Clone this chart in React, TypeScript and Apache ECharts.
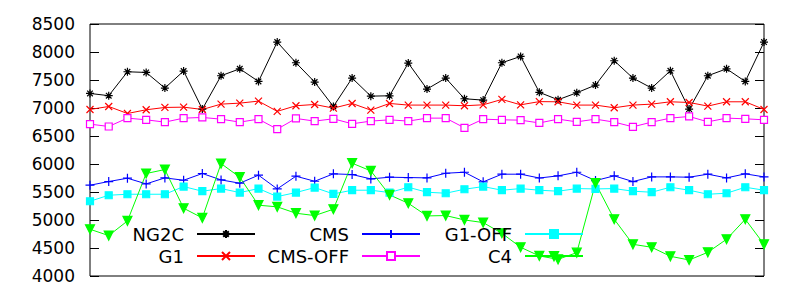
import React, { useEffect, useRef } from "react";
import * as echarts from "echarts";

const categories = Array.from({ length: 37 }, (_, i) => String(i + 1));

const ng2c = [7260, 7220, 7647, 7635, 7356, 7660, 6980, 7576, 7700, 7474, 8178, 7808, 7463, 7027, 7534, 7212, 7218, 7802, 7338, 7534, 7165, 7141, 7808, 7921, 7280, 7147, 7272, 7409, 7844, 7534, 7356, 7665, 6980, 7576, 7700, 7474, 8178];
const g1 = [6974, 7027, 6902, 6968, 7010, 7015, 6974, 7069, 7087, 7123, 6940, 7040, 7063, 6998, 7081, 6962, 7081, 7052, 7052, 7052, 7040, 7057, 7153, 7057, 7114, 7111, 7052, 7052, 7004, 7052, 7069, 7111, 7099, 7034, 7111, 7111, 6974];
const cms = [5621, 5687, 5746, 5645, 5752, 5710, 5830, 5716, 5657, 5800, 5555, 5782, 5692, 5824, 5812, 5734, 5764, 5758, 5752, 5835, 5853, 5681, 5818, 5818, 5750, 5788, 5853, 5704, 5788, 5687, 5770, 5770, 5764, 5818, 5752, 5824, 5770];
const cmsOff = [6712, 6670, 6819, 6789, 6748, 6819, 6831, 6801, 6748, 6801, 6622, 6813, 6766, 6807, 6718, 6766, 6789, 6766, 6819, 6819, 6646, 6801, 6789, 6783, 6733, 6801, 6753, 6801, 6748, 6664, 6748, 6819, 6849, 6753, 6819, 6807, 6789];
const g1Off = [5335, 5442, 5460, 5460, 5460, 5597, 5514, 5561, 5490, 5561, 5418, 5490, 5579, 5466, 5532, 5532, 5490, 5585, 5496, 5478, 5549, 5597, 5532, 5561, 5532, 5514, 5561, 5555, 5561, 5514, 5496, 5585, 5532, 5460, 5478, 5585, 5532];
const c4 = [4835, 4721, 4983, 5830, 5901, 5210, 5037, 6008, 5764, 5264, 5235, 5121, 5079, 5192, 6014, 5877, 5448, 5299, 5073, 5079, 5001, 4954, 4763, 4513, 4358, 4298, 4417, 5657, 5013, 4566, 4513, 4352, 4286, 4423, 4656, 5013, 4566];

const yTicks = { min: 4000, max: 8500, interval: 500 };

const FONT = "DejaVu Sans";
const TICK_FS = 17;
const KEY_FS = 18;

const SYM_ASTERISK = "path://M0,5L10,5M5,0L5,10M1.5,1.5L8.5,8.5M8.5,1.5L1.5,8.5";
const SYM_X = "path://M0,0L10,10M10,0L0,10";
const SYM_PLUS = "path://M0,5L10,5M5,0L5,10";
const SYM_TRI = "path://M0,0L10,0L5,9Z";

type SDef = { name: string; data: number[]; color: string; symbol: string; size: number; fill: string };

const seriesDefs: SDef[] = [
  { name: "NG2C", data: ng2c, color: "#000000", symbol: SYM_ASTERISK, size: 8, fill: "#000000" },
  { name: "G1", data: g1, color: "#ff0000", symbol: SYM_X, size: 7, fill: "#ff0000" },
  { name: "CMS", data: cms, color: "#0000ff", symbol: SYM_PLUS, size: 9, fill: "#0000ff" },
  { name: "CMS-OFF", data: cmsOff, color: "#ff00ff", symbol: "rect", size: 7, fill: "#ffffff" },
  { name: "G1-OFF", data: g1Off, color: "#00ffff", symbol: "rect", size: 7, fill: "#00ffff" },
  { name: "C4", data: c4, color: "#00ff00", symbol: SYM_TRI, size: 9, fill: "#00ff00" },
];

const legendPos = [
  { name: "NG2C", right: 544, top: 224 },
  { name: "G1", right: 544, top: 246 },
  { name: "CMS", right: 379, top: 224 },
  { name: "CMS-OFF", right: 379, top: 246 },
  { name: "G1-OFF", right: 216, top: 224 },
  { name: "C4", right: 216, top: 246 },
];

export default function App() {
  const ref = useRef<HTMLDivElement>(null);
  useEffect(() => {
    if (!ref.current) return;
    const chart = echarts.init(ref.current, undefined, { renderer: "svg" });
    const option: any = {
      animation: false,
      backgroundColor: "#ffffff",
      textStyle: { fontFamily: FONT },
      grid: {
        left: 90,
        right: 36,
        top: 24,
        bottom: 24,
        show: true,
        borderColor: "#000000",
        borderWidth: 1,
        backgroundColor: "transparent",
      },
      xAxis: {
        type: "category",
        data: categories,
        boundaryGap: false,
        axisLine: { show: false },
        axisTick: { show: false },
        axisLabel: { show: false },
        splitLine: { show: false },
      },
      yAxis: [
        {
          type: "value",
          ...yTicks,
          position: "left",
          axisLine: { show: false },
          axisTick: { show: true, inside: true, length: 9, lineStyle: { color: "#000000" } },
          axisLabel: {
            color: "#000000",
            fontSize: TICK_FS,
            fontFamily: FONT,
            margin: 15,
            formatter: (v: number) => String(v),
          },
          splitLine: { show: false },
        },
        {
          type: "value",
          ...yTicks,
          position: "right",
          axisLine: { show: false },
          axisTick: { show: true, inside: true, length: 9, lineStyle: { color: "#000000" } },
          axisLabel: { show: false },
          splitLine: { show: false },
        },
      ],
      legend: legendPos.map((l) => ({
        data: [l.name],
        right: l.right,
        top: l.top,
        align: "right",
        orient: "horizontal",
        padding: 0,
        itemWidth: 58,
        itemHeight: 10,
        selectedMode: false,
        textStyle: {
          fontSize: KEY_FS,
          fontFamily: FONT,
          color: "#000000",
          lineHeight: 20,
          padding: [0, 8, 0, 0],
        },
      })),
      series: seriesDefs.map((s) => ({
        name: s.name,
        type: "line",
        data: s.data,
        symbol: s.symbol,
        symbolSize: s.size,
        showSymbol: true,
        lineStyle: { color: s.color, width: 1 },
        itemStyle: { color: s.fill, borderColor: s.color, borderWidth: 1.2 },
        emphasis: { disabled: true },
      })),
    };
    chart.setOption(option);
    return () => chart.dispose();
  }, []);
  return <div ref={ref} style={{ width: 800, height: 300, position: "absolute", left: 0, top: 0 }} />;
}
